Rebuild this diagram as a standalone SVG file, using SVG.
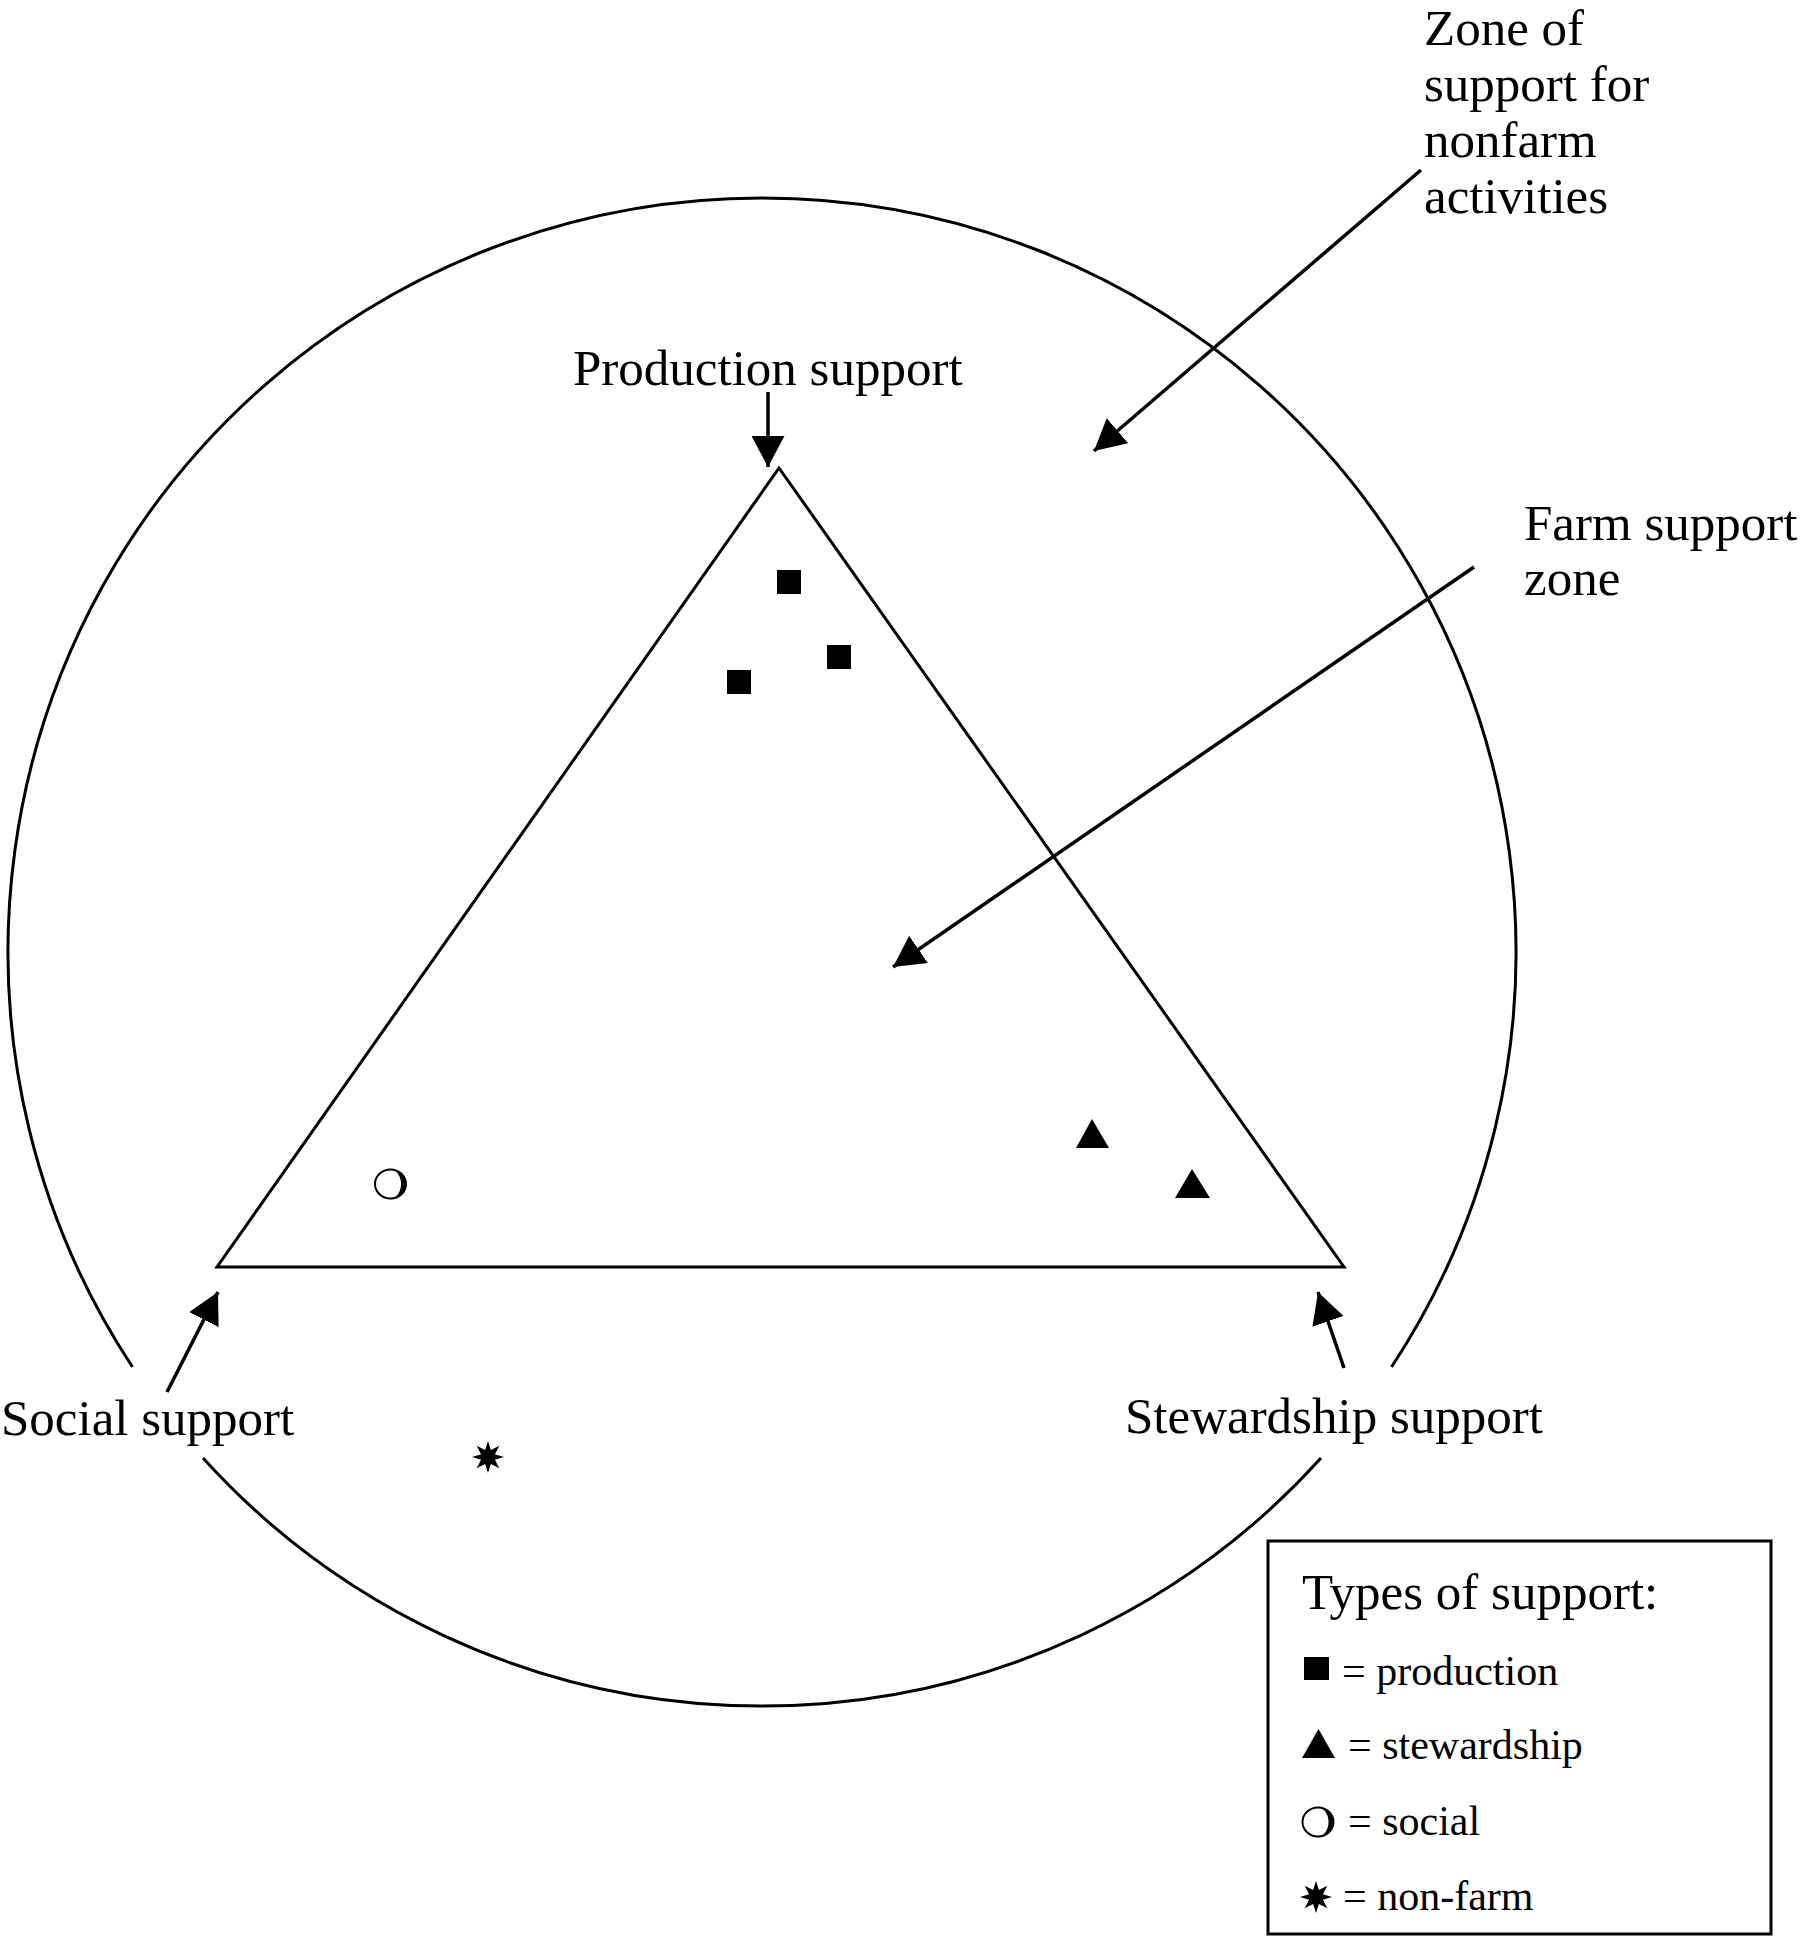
<svg xmlns="http://www.w3.org/2000/svg" width="1800" height="1937" viewBox="0 0 1800 1937">
  <style>
    .lbl { font-family: "Liberation Serif", "Times New Roman", serif; font-size: 51px; fill: #000; }
    .leg { font-family: "Liberation Serif", "Times New Roman", serif; font-size: 42px; fill: #000; }
    .ln { stroke: #000; stroke-width: 3; fill: none; }
    .conn { stroke: #000; stroke-width: 3.5; fill: none; marker-end: url(#ah); }
    .sym { fill: #000; stroke: none; }
  </style>
  <defs>
    <marker id="ah" markerUnits="userSpaceOnUse" markerWidth="32" markerHeight="33" refX="31" refY="16.5" orient="auto">
      <path d="M0,0 L31,16.5 L0,33 Z" fill="#000"/>
    </marker>
    <path id="star" d="M0,-16 L2.87,-6.93 L11.31,-11.31 L6.93,-2.87 L16,0 L6.93,2.87 L11.31,11.31 L2.87,6.93 L0,16 L-2.87,6.93 L-11.31,11.31 L-6.93,2.87 L-16,0 L-6.93,-2.87 L-11.31,-11.31 L-2.87,-6.93 Z"/>
    <g id="ring">
      <ellipse cx="0" cy="0" rx="15.5" ry="14.5" fill="none" stroke="#000" stroke-width="2"/>
      <path d="M-2,-15.5 A17,15.5 0 0 1 -2,15.5 A10.5,13 0 0 0 -2,-15.5 Z" fill="#000"/>
    </g>
  </defs>
  <rect width="1800" height="1937" fill="#fff"/>

  <g id="outer-circle">
    <path class="ln" d="M132.5,1367 A754,754 0 1 1 1391.5,1367"/>
    <path class="ln" d="M203,1458 A754,754 0 0 0 1321,1458"/>
  </g>

  <g id="farm-triangle">
    <polygon class="ln" stroke-width="3.5" points="779,468 217,1267 1344,1267"/>
  </g>

  <g id="points">
    <rect class="sym" x="777" y="570" width="24" height="24"/>
    <rect class="sym" x="827" y="645" width="24" height="24"/>
    <rect class="sym" x="727" y="670" width="24" height="24"/>
    <polygon class="sym" points="1092,1119 1109,1148 1076,1148"/>
    <polygon class="sym" points="1192,1169 1210,1198 1175,1198"/>
    <use href="#ring" x="390.5" y="1184"/>
    <use href="#star" x="488" y="1457"/>
  </g>

  <g id="connectors">
    <line class="conn" x1="768" y1="392" x2="768" y2="467"/>
    <line class="conn" x1="1421" y1="170" x2="1094" y2="451"/>
    <line class="conn" x1="1474" y1="567" x2="893" y2="967"/>
    <line class="conn" x1="167" y1="1392" x2="218" y2="1292"/>
    <line class="conn" x1="1344" y1="1368" x2="1318" y2="1292"/>
  </g>

  <g id="label-production">
    <text class="lbl" x="573" y="385">Production support</text>
  </g>
  <g id="label-nonfarm-zone">
    <text class="lbl" x="1424" y="45">Zone of</text>
    <text class="lbl" x="1424" y="101">support for</text>
    <text class="lbl" x="1424" y="157">nonfarm</text>
    <text class="lbl" x="1424" y="213">activities</text>
  </g>
  <g id="label-farm-zone">
    <text class="lbl" x="1524" y="540">Farm support</text>
    <text class="lbl" x="1524" y="595">zone</text>
  </g>
  <g id="label-social">
    <text class="lbl" x="1" y="1435">Social support</text>
  </g>
  <g id="label-stewardship">
    <text class="lbl" x="1125" y="1433">Stewardship support</text>
  </g>

  <g id="legend">
    <rect x="1268" y="1541" width="503" height="393" fill="none" stroke="#000" stroke-width="3"/>
    <text class="lbl" x="1302" y="1609">Types of support:</text>
    <rect class="sym" x="1304" y="1657" width="25" height="23"/>
    <text class="leg" x="1342" y="1685">= production</text>
    <polygon class="sym" points="1318.5,1729 1335,1758 1302,1758"/>
    <text class="leg" x="1348" y="1759">= stewardship</text>
    <use href="#ring" x="1318" y="1822"/>
    <text class="leg" x="1348" y="1835">= social</text>
    <use href="#star" x="1316" y="1897"/>
    <text class="leg" x="1343" y="1910">= non-farm</text>
  </g>
</svg>
